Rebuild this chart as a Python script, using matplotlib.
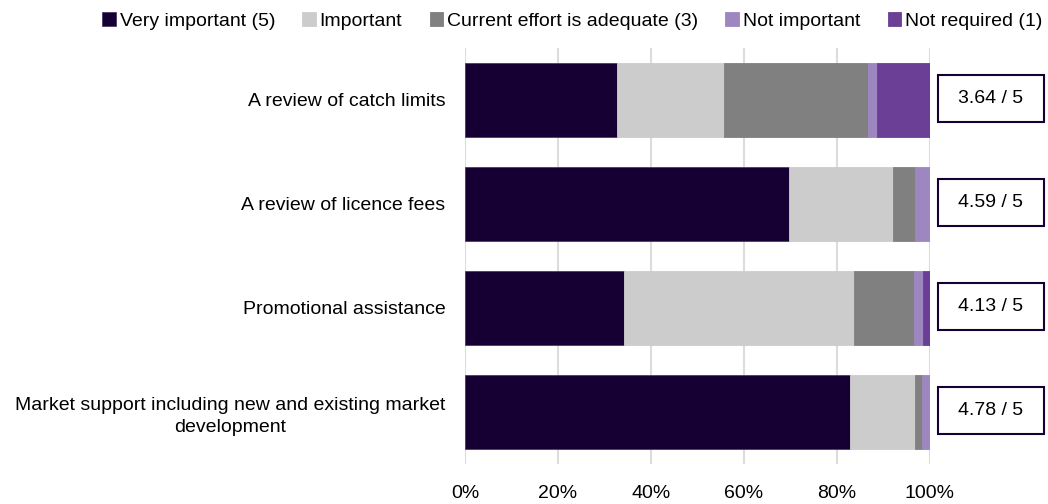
import matplotlib
matplotlib.use("Agg")
import matplotlib.pyplot as plt
from matplotlib.patches import Rectangle
import numpy as np

plt.rcParams['font.family'] = ['Liberation Sans Narrow', 'Liberation Sans', 'DejaVu Sans']

categories = [
    "A review of catch limits",
    "A review of licence fees",
    "Promotional assistance",
    "Market support including new and existing market\ndevelopment",
]
series_names = ["Very important (5)", "Important", "Current effort is adequate (3)",
                "Not important", "Not required (1)"]
very_important = [32.6, 69.7, 34.3, 82.7]
important = [23.1, 22.3, 49.3, 14.1]
adequate = [31.0, 4.8, 13.0, 1.5]
not_important = [1.8, 3.2, 1.8, 1.7]
not_required = [11.5, 0.0, 1.6, 0.0]
scores = ["3.64 / 5", "4.59 / 5", "4.13 / 5", "4.78 / 5"]

colors = ["#160033", "#cccccc", "#808080", "#9e86c0", "#6b3f96"]

fig = plt.figure(figsize=(10.48, 5.04), dpi=100)
ax = fig.add_axes([465 / 1048, 1 - 464 / 504, 465 / 1048, 416 / 504])

y = np.arange(len(categories))
left = np.zeros(len(categories))
for name, vals, c in zip(series_names,
                         [very_important, important, adequate, not_important, not_required],
                         colors):
    ec = "#4a3a6a" if c == "#160033" else c
    ax.barh(y, vals, left=left, height=0.71, color=c, edgecolor=ec, linewidth=0.6,
            label=name, zorder=3)
    left += np.array(vals)

ax.set_xlim(0, 100)
ax.set_ylim(len(categories) - 0.5, -0.5)
ax.set_xticks(np.arange(0, 101, 20))
ax.set_xticklabels([f"{v}%" for v in range(0, 101, 20)], fontsize=14)
ax.set_yticks(y)
ax.set_yticklabels(categories, fontsize=14, ha='right', multialignment='center',
                   linespacing=1.4)
ax.tick_params(axis='y', length=0, pad=14)
ax.tick_params(axis='x', length=0, pad=15)
ax.grid(axis='x', color='#dcdcdc', linewidth=1.5, zorder=0)
for s in ax.spines.values():
    s.set_visible(False)

# score boxes to the right of the bars
for yi, s in zip(y, scores):
    ax.add_patch(Rectangle((101.7, yi - 0.24), 22.8, 0.45, fc='white', ec='#160033',
                           lw=1.5, clip_on=False, zorder=4))
    ax.text(113.1, yi - 0.015, s, ha='center', va='center', fontsize=14, zorder=5,
            clip_on=False)

fig.legend(loc='upper center', bbox_to_anchor=(0.546, 1.01), ncol=5, frameon=False,
           fontsize=14, handlelength=0.7, handleheight=0.7, handletextpad=0.2,
           columnspacing=1.4)

fig.savefig("out.png", dpi=100)
